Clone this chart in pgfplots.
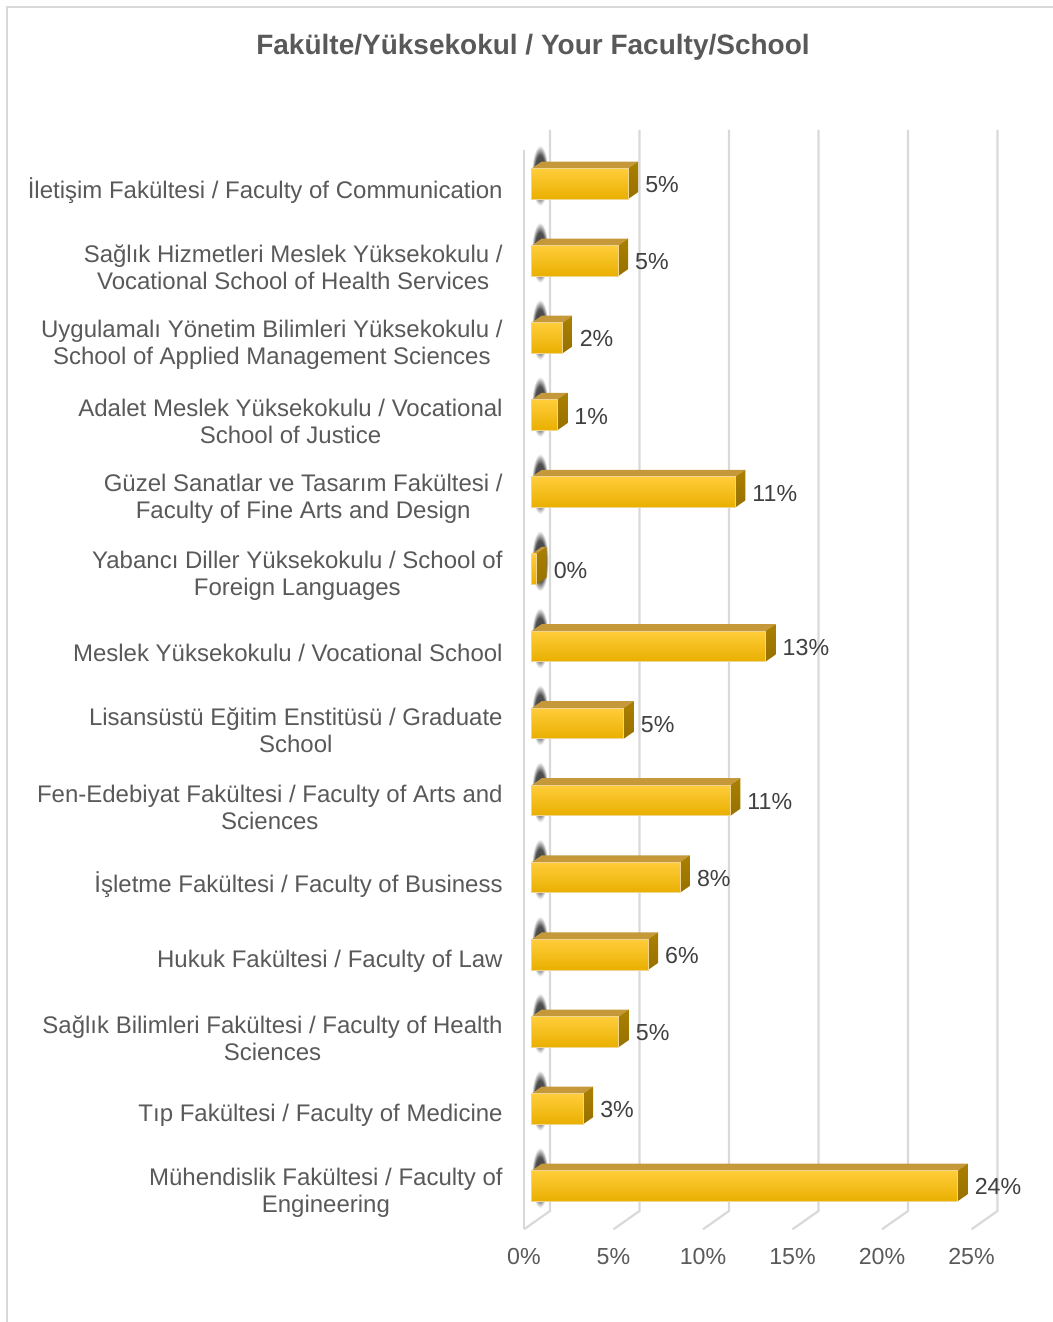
\documentclass[border=0pt]{standalone}
\usepackage{pgfplots}
\pgfplotsset{compat=1.18}
\usepackage{pgfplotstable}
\usepackage{fontspec}
\setmainfont{Liberation Sans}
\definecolor{txt}{HTML}{595959}
\definecolor{lab}{HTML}{404040}
\definecolor{gridc}{HTML}{D9D9D9}
\definecolor{fTop}{HTML}{FFCD3A}
\definecolor{fMid}{HTML}{FFC000}
\definecolor{fBot}{HTML}{E9AF00}
\definecolor{topF}{HTML}{C5983A}
\definecolor{sideT}{HTML}{AA8000}
\definecolor{sideB}{HTML}{977100}
\definecolor{edge}{HTML}{F0D590}
\pgfdeclareradialshading{blob}{\pgfpoint{0bp}{0bp}}{color(0bp)=(black!80); color(17bp)=(black!68); color(25bp)=(white); color(50bp)=(white)}

\pgfplotstableread{
i v lab
13 5.39 5
12 4.83 5
11 1.73 2
10 1.43 1
9 11.38 11
8 0.28 0
7 13.07 13
6 5.15 5
5 11.10 11
4 8.28 8
3 6.50 6
2 4.87 5
1 2.88 3
0 23.80 24
}\datatable
\pgfplotstablegetrowsof{\datatable}
\pgfmathtruncatemacro\lastrow{\pgfplotsretval-1}

\begin{document}
\begin{tikzpicture}[x=1pt,y=1pt]
\useasboundingbox (-262,-46.35) rectangle (264.5,614.65);
\draw[gridc, line width=1pt] (-258.5,-50) -- (-258.5,611.15) -- (266,611.15);
\node[font=\bfseries\fontsize{14}{16}\selectfont, text=txt, anchor=base, inner sep=0pt] at (4.5,587.15) {Fakülte/Yüksekokul / Your Faculty/School};
\begin{axis}[
  scale only axis, width=237.175pt, height=539.63pt,
  xmin=0, xmax=26.5, ymin=-0.5, ymax=13.5,
  clip=false,
  axis line style={draw=none},
  major tick length=0pt,
  /pgf/number format/assume math mode=true,
  xtick={0,5,...,25},
  xticklabel={\pgfmathprintnumber{\tick}\%},
  xticklabel style={anchor=base, yshift=-17.5pt, inner sep=0pt, text=txt, font=\fontsize{11.6}{13}\selectfont},
  ytick={0,...,13},
  yticklabels={
    {Mühendislik Fakültesi / Faculty of\\Engineering},
    {Tıp Fakültesi / Faculty of Medicine},
    {Sağlık Bilimleri Fakültesi / Faculty of Health\\Sciences},
    {Hukuk Fakültesi / Faculty of Law},
    {İşletme Fakültesi / Faculty of Business},
    {Fen-Edebiyat Fakültesi / Faculty of Arts and\\Sciences},
    {Lisansüstü Eğitim Enstitüsü / Graduate\\School},
    {Meslek Yüksekokulu / Vocational School},
    {Yabancı Diller Yüksekokulu / School of\\Foreign Languages},
    {Güzel Sanatlar ve Tasarım Fakültesi /\\Faculty of Fine Arts and Design},
    {Adalet Meslek Yüksekokulu / Vocational\\School of Justice},
    {Uygulamalı Yönetim Bilimleri Yüksekokulu /\\School of Applied Management Sciences},
    {Sağlık Hizmetleri Meslek Yüksekokulu /\\Vocational School of Health Services},
    {İletişim Fakültesi / Faculty of Communication}},
  yticklabel style={anchor=east, align=center, inner sep=0pt, xshift=-10.5pt, yshift=-1pt, text=txt, font=\fontsize{12}{13.5}\selectfont},
]
% shadows on the left wall
\pgfplotsforeachungrouped \r in {0,...,\lastrow}{%
  \pgfplotstablegetelem{\r}{i}\of\datatable \let\ci\pgfplotsretval
  \pgfmathsetmacro\sy{\ci-0.22}
  \pgfmathsetmacro\sY{\ci+0.56}
  \edef\temp{\noexpand\addplot[draw=none, shading=blob] coordinates {(0.42,\sy) (1.36,\sy) (1.36,\sY) (0.42,\sY)} --cycle;}%
  \temp
}
% back wall grid lines and floor diagonals
\addplot[gridc, line width=1.1pt] coordinates {(0,-0.5) (0,13.5)};
\addplot[gridc, line width=1.1pt] coordinates {(0,-0.5) (1.4525,-0.2626) (1.4525,13.76)};
\addplot[gridc, line width=1.1pt] coordinates {(5,-0.5) (6.4525,-0.2626) (6.4525,13.76)};
\addplot[gridc, line width=1.1pt] coordinates {(10,-0.5) (11.4525,-0.2626) (11.4525,13.76)};
\addplot[gridc, line width=1.1pt] coordinates {(15,-0.5) (16.4525,-0.2626) (16.4525,13.76)};
\addplot[gridc, line width=1.1pt] coordinates {(20,-0.5) (21.4525,-0.2626) (21.4525,13.76)};
\addplot[gridc, line width=1.1pt] coordinates {(25,-0.5) (26.4525,-0.2626) (26.4525,13.76)};
% 3D bars
\pgfplotsforeachungrouped \r in {0,...,\lastrow}{%
  \pgfplotstablegetelem{\r}{i}\of\datatable \let\ci\pgfplotsretval
  \pgfplotstablegetelem{\r}{v}\of\datatable \let\cv\pgfplotsretval
  \pgfmathsetmacro\xa{0.43}
  \pgfmathsetmacro\xb{0.43+\cv}
  \pgfmathsetmacro\xc{\xb+0.5587}
  \pgfmathsetmacro\xd{\xa+0.5587}
  \pgfmathsetmacro\yb{\ci-0.1355}
  \pgfmathsetmacro\yt{\ci+0.2601}
  \pgfmathsetmacro\ytt{\yt+0.0908}
  \pgfmathsetmacro\ybb{\yb+0.0908}
  \edef\temp{%
    \noexpand\addplot[draw=none, fill=topF] coordinates {(\xa,\yt) (\xb,\yt) (\xc,\ytt) (\xd,\ytt)} --cycle;
    \noexpand\addplot[draw=none, top color=sideT, bottom color=sideB] coordinates {(\xb,\yb) (\xc,\ybb) (\xc,\ytt) (\xb,\yt)} --cycle;
    \noexpand\addplot[draw=edge, line width=0.4pt, top color=fTop, middle color=fMid, bottom color=fBot] coordinates {(\xa,\yb) (\xb,\yb) (\xb,\yt) (\xa,\yt)} --cycle;
  }%
  \temp
}
% data labels
\addplot[draw=none, mark=none, point meta=explicit symbolic,
  nodes near coords={\pgfplotspointmeta\%},
  every node near coord/.append style={anchor=base west, inner sep=0pt, text=lab, font=\fontsize{11.6}{13}\selectfont}]
  table[x expr={\thisrow{v}+1.363}, y expr={\thisrow{i}-0.0545}, meta=lab] {\datatable};
\end{axis}
\end{tikzpicture}
\end{document}
